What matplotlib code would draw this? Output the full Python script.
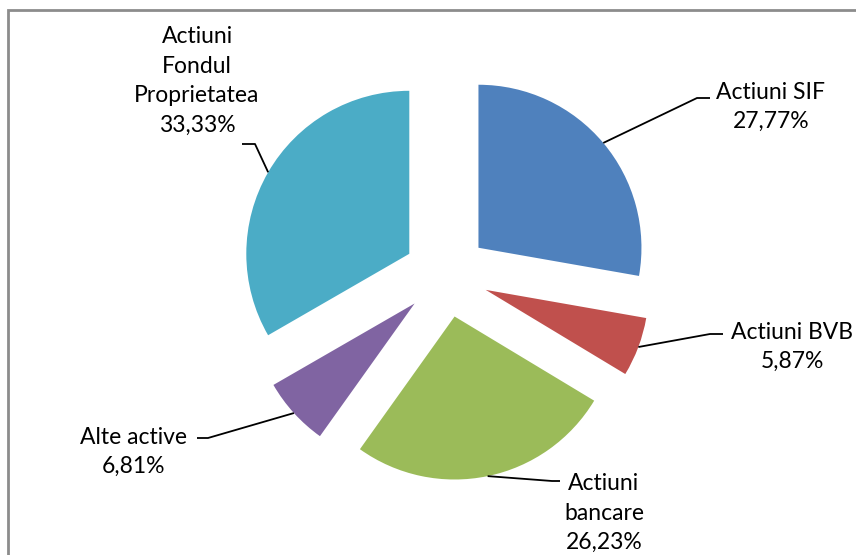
import numpy as np
import matplotlib
matplotlib.use("Agg")
import matplotlib.pyplot as plt
from matplotlib.patches import Rectangle

# data
categories = ["Actiuni SIF", "Actiuni BVB", "Actiuni bancare", "Alte active",
              "Actiuni Fondul Proprietatea"]
shares = [27.77, 5.87, 26.23, 6.81, 33.33]
label_text = ["Actiuni SIF", "Actiuni BVB", "Actiuni\nbancare", "Alte active",
              "Actiuni\nFondul\nProprietatea"]
colors = ["#4F81BD", "#C0504D", "#9BBB59", "#8064A2", "#4BACC6"]

W, H = 856, 555
SCALE = 163.0          # pixels per radius unit
CX, CY = 446, 275      # pie centre in pixels (from top)
EXPLODE = 0.26


def px(x, y):
    return (x - CX) / SCALE, (CY - y) / SCALE


# label block centres and leader elbows, in pixels
label_pos = [(771, 107), (792, 347), (604, 513), (133, 452), (197, 81)]
elbows = [((697, 98), (710, 98)), ((710, 334), (723, 334)),
          ((552, 481), (560, 481)), ((208, 438), (197, 438)),
          ((255, 144), (242, 144))]

fig = plt.figure(figsize=(W / 100, H / 100), dpi=100)
ax = fig.add_axes([0, 0, 1, 1])
ax.pie(shares, colors=colors, startangle=90, counterclock=False,
       explode=[EXPLODE] * len(shares), radius=1.0, center=(0, 0),
       wedgeprops=dict(linewidth=0))
ax.set_xlim(-CX / SCALE, (W - CX) / SCALE)
ax.set_ylim(-(H - CY) / SCALE, CY / SCALE)
ax.set_aspect("equal")
ax.axis("off")

font = dict(family=["Lato", "DejaVu Sans"], fontsize=16.5, color="black")

theta = 90.0
for val, txt, (lx, ly), (e1, e2) in zip(shares, label_text, label_pos, elbows):
    span = val / sum(shares) * 360
    mid = np.deg2rad(theta - span / 2)
    theta -= span
    ox, oy = EXPLODE * np.cos(mid), EXPLODE * np.sin(mid)
    sx, sy = ox + np.cos(mid), oy + np.sin(mid)
    ex1, ey1 = px(*e1)
    ex2, ey2 = px(*e2)
    ax.plot([sx, ex1, ex2], [sy, ey1, ey2], color="black", lw=1.3,
            solid_capstyle="butt")
    pct = f"{val:.2f}".replace(".", ",") + "%"
    tx, ty = px(lx, ly)
    ax.text(tx, ty, f"{txt}\n{pct}", ha="center", va="center",
            linespacing=1.5, **font)

fig.patches.append(Rectangle((8 / W, -0.1), 1.2, 1 - 10 / H + 0.1,
                             transform=fig.transFigure, fill=False,
                             edgecolor="#8c8c8c", lw=2))

fig.savefig("out.png", dpi=100)
